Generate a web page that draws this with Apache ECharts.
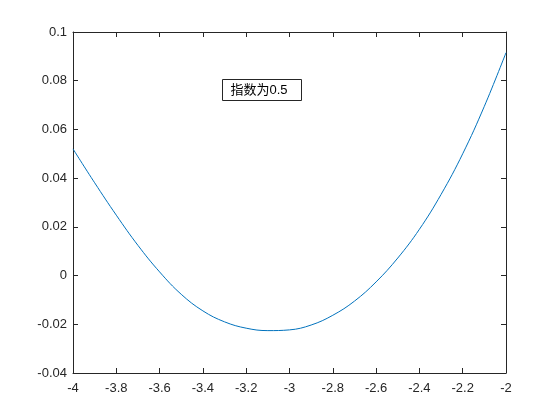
<!DOCTYPE html>
<html>
<head>
<meta charset="utf-8">
<script src="https://cdn.jsdelivr.net/npm/echarts@6/dist/echarts.min.js"></script>
<style>
  html, body { margin: 0; padding: 0; background: #fff; }
  #chart { width: 560px; height: 420px; }
</style>
</head>
<body>
<div id="chart"></div>
<script>
// values, x step 0.1
const xValues = [-4.0, -3.9, -3.8, -3.7, -3.6, -3.5, -3.4, -3.3, -3.2, -3.1, -3.0,
                 -2.9, -2.8, -2.7, -2.6, -2.5, -2.4, -2.3, -2.2, -2.1, -2.0];
const yValues = [0.0520, 0.0381, 0.0248, 0.0124, 0.0015, -0.0077, -0.0145, -0.0190, -0.0216, -0.0226, -0.0223,
                 -0.0203, -0.0163, -0.0105, -0.0026, 0.0072, 0.0190, 0.0333, 0.0500, 0.0695, 0.0915];
const noteText = '指数为0.5';

const axisColor = '#262626';
const fontFamily = '"Liberation Sans", Arial, "Noto Sans CJK SC", sans-serif';

let chart = echarts.init(document.getElementById('chart'), null, { renderer: 'canvas' });

function axisBase(showLabel, margin) {
  return {
    axisLine: { show: true, onZero: false, lineStyle: { color: axisColor, width: 1 } },
    axisTick: { show: true, inside: true, length: 5, lineStyle: { color: axisColor } },
    axisLabel: { show: showLabel, margin: margin, color: axisColor, fontSize: 13, fontFamily: fontFamily },
    splitLine: { show: false }
  };
}

let option = {
  animation: false,
  grid: { left: 73, right: 54, top: 32, bottom: 47 },
  xAxis: [
    Object.assign({ type: 'value', position: 'bottom', min: -4, max: -2, interval: 0.2 }, axisBase(true, 9)),
    Object.assign({ type: 'value', position: 'top', min: -4, max: -2, interval: 0.2 }, axisBase(false, 8))
  ],
  yAxis: [
    Object.assign({ type: 'value', position: 'left', min: -0.04, max: 0.1, interval: 0.02 }, axisBase(true, 6)),
    Object.assign({ type: 'value', position: 'right', min: -0.04, max: 0.1, interval: 0.02 }, axisBase(false, 8))
  ],
  series: [
    {
      type: 'line',
      data: xValues.map((x, i) => [x, yValues[i]]),
      showSymbol: false,
      smooth: 0.4,
      lineStyle: { color: '#0072BD', width: 1 },
      itemStyle: { color: '#0072BD' }
    }
  ],
  graphic: [
    {
      type: 'group',
      left: 222,
      top: 79,
      children: [
        {
          type: 'rect',
          shape: { x: 0.5, y: 0.5, width: 79, height: 21 },
          style: { fill: '#fff', stroke: axisColor, lineWidth: 1 }
        },
        {
          type: 'text',
          x: 8.5,
          y: 11,
          style: {
            text: noteText,
            fill: '#000',
            font: '13px ' + fontFamily,
            verticalAlign: 'middle'
          }
        }
      ]
    }
  ]
};

chart.setOption(option);
</script>
</body>
</html>
